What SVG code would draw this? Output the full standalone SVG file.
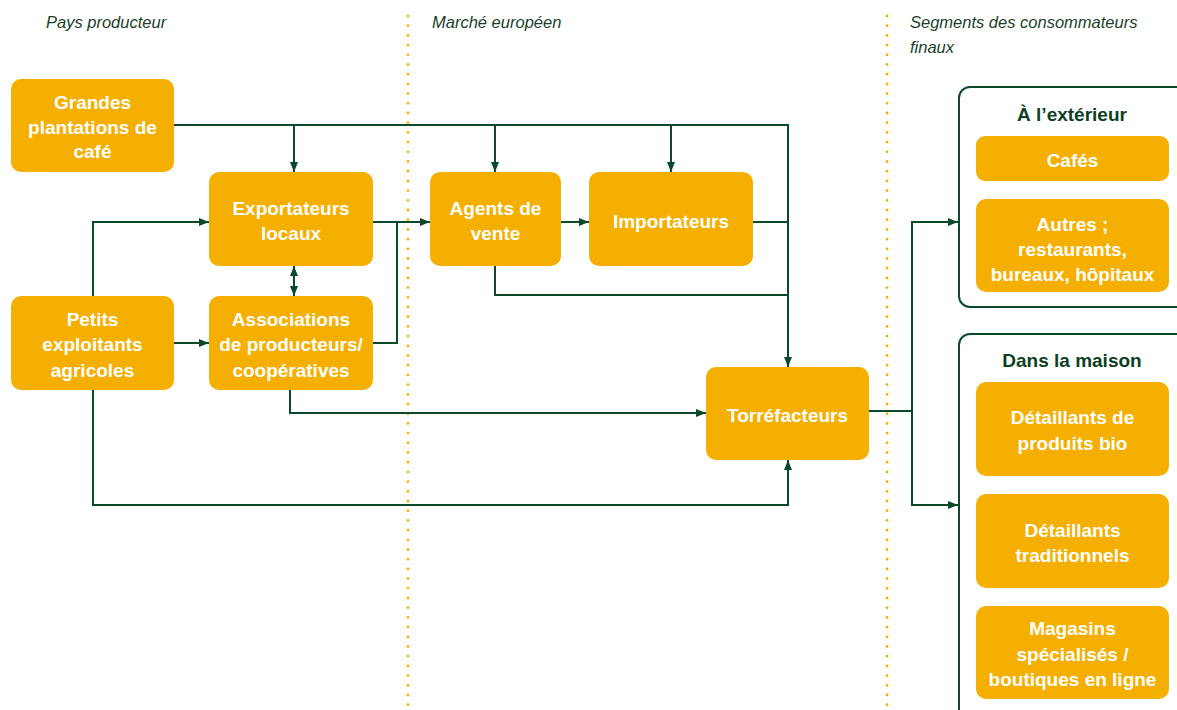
<svg xmlns="http://www.w3.org/2000/svg" width="1177" height="710" viewBox="0 0 1177 710">
<defs>
<style>
.n{fill:#F5AF00}
.t{font-family:"Liberation Sans",Arial,sans-serif;font-weight:bold;font-size:19px;fill:#ffffff;text-anchor:middle}
.h{font-family:"Liberation Sans",Arial,sans-serif;font-weight:bold;font-size:19px;fill:#0E3F24;text-anchor:middle}
.s{font-family:"Liberation Sans",Arial,sans-serif;font-style:italic;font-size:16.5px;fill:#1B3F2C}
.c path{fill:none;stroke:#0B4A28;stroke-width:2}
.a{marker-end:url(#ar)}
.d{fill:none;stroke:#F5AF00;stroke-width:2.8;stroke-linecap:round;stroke-dasharray:0 9.7}
.g{fill:#ffffff;stroke:#0B4A28;stroke-width:2}
</style>
<marker id="ar" viewBox="0 0 10 8" refX="10" refY="4" markerWidth="10" markerHeight="8" markerUnits="userSpaceOnUse" orient="auto-start-reverse">
<path d="M0,0 L10,4 L0,8 z" fill="#0B4A28"/>
</marker>
</defs>
<rect width="1177" height="710" fill="#ffffff"/>

<g id="separators">
<path class="d" d="M408,16 V710"/>
<path class="d" d="M887,16 V710"/>
</g>
<g id="section-labels">
<text class="s" x="46" y="28">Pays producteur</text>
<text class="s" x="432" y="28">Marché européen</text>
<text class="s" x="910" y="28">Segments des consommateurs</text>
<text class="s" x="910" y="53">finaux</text>
</g>

<g id="connectors" class="c">
<path class="a" d="M174,125 H788 V367"/>
<path class="a" d="M294,125 V172"/>
<path class="a" d="M495,125 V172"/>
<path class="a" d="M671,125 V172"/>
<path class="a" d="M93,296 V222 H209"/>
<path class="a" d="M174,343 H209"/>
<path class="a" d="M93,390 V505 H788 V460"/>
<path d="M294,266 V296" marker-start="url(#ar)" marker-end="url(#ar)"/>
<path class="a" d="M373,222 H430"/>
<path d="M373,343 H397 V222"/>
<path class="a" d="M290,390 V413 H706"/>
<path class="a" d="M561,222 H589"/>
<path d="M753,222 H788"/>
<path d="M495,266 V295 H788"/>
<path d="M869,411 H912"/>
<path class="a" d="M912,411 V222 H958"/>
<path class="a" d="M912,411 V505 H958"/>
</g>

<g id="grandes-plantations">
<rect class="n" x="11" y="79" width="163" height="93" rx="10"/>
<text class="t" x="92.5" y="109">Grandes</text>
<text class="t" x="92.5" y="133.5">plantations de</text>
<text class="t" x="92.5" y="158">café</text>
</g>
<g id="petits-exploitants">
<rect class="n" x="11" y="296" width="163" height="94" rx="10"/>
<text class="t" x="92.5" y="325.5">Petits</text>
<text class="t" x="92.5" y="351">exploitants</text>
<text class="t" x="92.5" y="376.5">agricoles</text>
</g>
<g id="exportateurs">
<rect class="n" x="209" y="172" width="164" height="94" rx="10"/>
<text class="t" x="291" y="215">Exportateurs</text>
<text class="t" x="291" y="240">locaux</text>
</g>
<g id="associations">
<rect class="n" x="209" y="296" width="164" height="94" rx="10"/>
<text class="t" x="291" y="325.5">Associations</text>
<text class="t" x="291" y="351">de producteurs/</text>
<text class="t" x="291" y="376.5">coopératives</text>
</g>
<g id="agents">
<rect class="n" x="430" y="172" width="131" height="94" rx="10"/>
<text class="t" x="495.5" y="214.5">Agents de</text>
<text class="t" x="495.5" y="239.5">vente</text>
</g>
<g id="importateurs">
<rect class="n" x="589" y="172" width="164" height="94" rx="10"/>
<text class="t" x="671" y="227.5">Importateurs</text>
</g>
<g id="torrefacteurs">
<rect class="n" x="706" y="367" width="163" height="93" rx="10"/>
<text class="t" x="787.5" y="422">Torréfacteurs</text>
</g>

<g id="exterieur">
<rect class="g" x="959" y="87" width="240" height="220" rx="11"/>
<text class="h" x="1072" y="121">À l’extérieur</text>
<g id="cafes">
<rect class="n" x="976" y="136" width="193" height="45" rx="9"/>
<text class="t" x="1072.5" y="166.5">Cafés</text>
</g>
<g id="autres">
<rect class="n" x="976" y="199" width="193" height="93" rx="10"/>
<text class="t" x="1072.5" y="231">Autres ;</text>
<text class="t" x="1072.5" y="256">restaurants,</text>
<text class="t" x="1072.5" y="281">bureaux, hôpitaux</text>
</g>
</g>

<g id="maison">
<rect class="g" x="959" y="334" width="240" height="400" rx="11"/>
<text class="h" x="1072" y="367">Dans la maison</text>
<g id="bio">
<rect class="n" x="976" y="382" width="193" height="94" rx="10"/>
<text class="t" x="1072.5" y="424">Détaillants de</text>
<text class="t" x="1072.5" y="449.5">produits bio</text>
</g>
<g id="traditionnels">
<rect class="n" x="976" y="494" width="193" height="94" rx="10"/>
<text class="t" x="1072.5" y="536.5">Détaillants</text>
<text class="t" x="1072.5" y="561.5">traditionnels</text>
</g>
<g id="magasins">
<rect class="n" x="976" y="606" width="193" height="93" rx="10"/>
<text class="t" x="1072.5" y="635">Magasins</text>
<text class="t" x="1072.5" y="660.5">spécialisés /</text>
<text class="t" x="1072.5" y="686">boutiques en ligne</text>
</g>
</g>
</svg>
